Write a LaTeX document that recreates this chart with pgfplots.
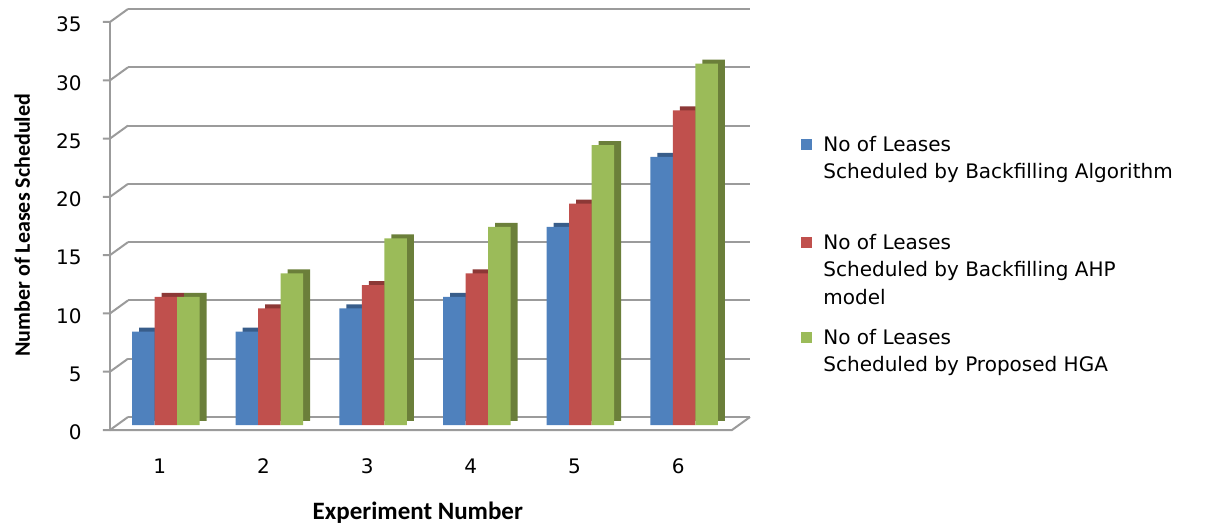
\documentclass[border=0pt]{standalone}
\usepackage{fontspec}
\setmainfont{DejaVu Sans}
\newfontfamily\lblfont{Carlito}
\usepackage{pgfplots}
\usepackage{pgfplotstable}
\pgfplotsset{compat=1.18}
\definecolor{blueF}{RGB}{79,129,189}
\definecolor{blueS}{RGB}{56,93,138}
\definecolor{redF}{RGB}{192,80,77}
\definecolor{redS}{RGB}{140,56,54}
\definecolor{greenF}{RGB}{155,187,89}
\definecolor{greenS}{RGB}{107,127,58}
\definecolor{gridgray}{RGB}{155,155,155}
\pgfplotstableread{
x backfill ahp hga
1 8 11 11
2 8 10 13
3 10 12 16
4 11 13 17
5 17 19 24
6 23 27 31
}\datatable
\newcommand{\sq}[1]{\textcolor{#1}{\rule[0.8pt]{5.5pt}{5.5pt}}}
\begin{document}
\begin{tikzpicture}
\path[use as bounding box] (0,0) rectangle (603pt,262.5pt);
\begin{axis}[
  at={(64pt,54pt)}, anchor=south west, scale only axis,
  width=311pt, height=204pt,
  xmin=0.5, xmax=6.5, ymin=0, ymax=35, clip=false,
  ytick={0,5,...,35}, xtick={1,...,6},
  ymajorgrids, grid style={line width=1pt, color=gridgray},
  axis line style={draw=none}, major tick length=0pt, tick style={draw=none},
  /pgf/number format/assume math mode=true,
  yticklabel style={anchor=east, inner sep=0pt, xshift=-23pt, yshift=-7.8pt, font=\fontsize{10}{11}\selectfont},
  xticklabel style={anchor=base, inner sep=0pt, xshift=-10pt, yshift=-28pt, font=\fontsize{10}{11}\selectfont},
  ylabel={Number of Leases Scheduled},
  ylabel style={at={(axis description cs:-0.170,0.47)}, anchor=center, font=\lblfont\bfseries\fontsize{11}{13}\selectfont},
  xlabel={Experiment Number},
  xlabel style={at={(axis description cs:0.466,-0.235)}, anchor=center, font=\lblfont\bfseries\fontsize{12.5}{14}\selectfont},
  ybar, bar width=11.25pt,
]
% floor, side wall, front axis
\draw[gridgray, line width=1pt] ([shift={(-9pt,-6.5pt)}]axis cs:0.5,0) -- ([shift={(-9pt,-6.5pt)}]axis cs:6.5,0) -- (axis cs:6.5,0);
\draw[gridgray, line width=1pt] ([shift={(-9pt,-6.5pt)}]axis cs:0.5,0) -- ([shift={(-9pt,-6.5pt)}]axis cs:0.5,35);
\pgfplotsinvokeforeach{0,5,...,35}{
  \draw[gridgray, line width=1pt] (axis cs:0.5,#1) -- ([shift={(-9pt,-6.5pt)}]axis cs:0.5,#1) -- ([shift={(-12.5pt,-6.5pt)}]axis cs:0.5,#1);
}
% bars (shadow = depth faces)
\addplot[fill=blueS, draw=none, bar shift=-11.25pt, xshift=-3.5pt, yshift=-2pt, forget plot] table[x=x,y=backfill]{\datatable};
\addplot[fill=blueF, draw=none, bar shift=-11.25pt, xshift=-7pt, yshift=-4pt] table[x=x,y=backfill]{\datatable};
\addplot[fill=redS, draw=none, bar shift=0pt, xshift=-3.5pt, yshift=-2pt, forget plot] table[x=x,y=ahp]{\datatable};
\addplot[fill=redF, draw=none, bar shift=0pt, xshift=-7pt, yshift=-4pt] table[x=x,y=ahp]{\datatable};
\addplot[fill=greenS, draw=none, bar shift=11.25pt, xshift=-3.5pt, yshift=-2pt, forget plot] table[x=x,y=hga]{\datatable};
\addplot[fill=greenF, draw=none, bar shift=11.25pt, xshift=-7pt, yshift=-4pt] table[x=x,y=hga]{\datatable};
% legend
\node[anchor=north west, inner sep=0pt, font=\fontsize{10}{13.75}\selectfont]
  at (axis description cs:1.082,0.699) {%
  \begin{tabular}{@{}l@{\hspace{5.5pt}}l@{}}
  \sq{blueF} & No of Leases\\
   & Scheduled by Backfilling Algorithm\\[21.5pt]
  \sq{redF} & No of Leases\\
   & Scheduled by Backfilling AHP\\
   & model\\[6.25pt]
  \sq{greenF} & No of Leases\\
   & Scheduled by Proposed HGA
  \end{tabular}};
\end{axis}
\end{tikzpicture}
\end{document}
